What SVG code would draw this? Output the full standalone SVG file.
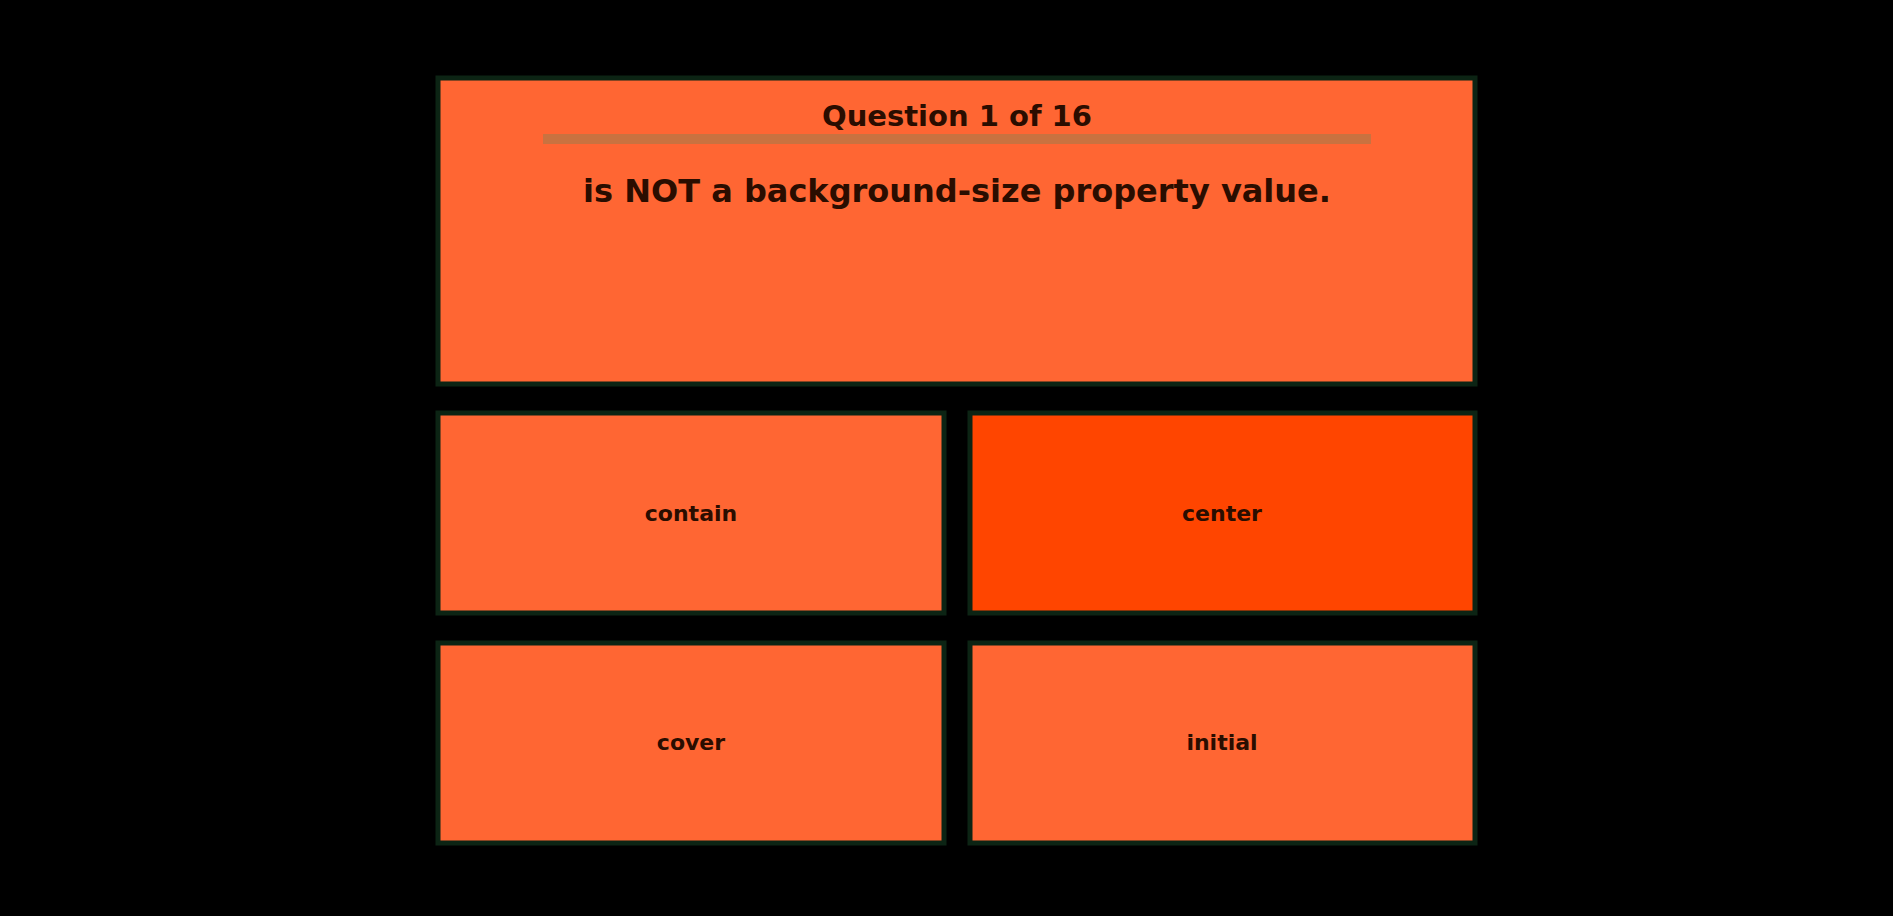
<svg xmlns="http://www.w3.org/2000/svg" width="1893" height="916" viewBox="0 0 1893 916">
<style>
.box{fill:#ff6633;stroke:#0c2414;stroke-width:5}
.sel{fill:#ff4500}
.t{font-family:"DejaVu Sans","Liberation Sans",sans-serif;font-weight:bold;fill:#2a0d00;text-anchor:middle}
.opt{font-size:22px}
</style>
<rect width="1893" height="916" fill="#000"/>
<g id="question">
<rect class="box" x="438" y="78" width="1037" height="306"/>
<text class="t" x="957" y="126" font-size="29">Question 1 of 16</text>
<rect x="543" y="134" width="828" height="10" fill="#c97240"/>
<text class="t" x="957" y="202" font-size="32">is NOT a background-size property value.</text>
</g>
<g id="opt-contain">
<rect class="box" x="438" y="413" width="506" height="200"/>
<text class="t opt" x="691" y="521">contain</text>
</g>
<g id="opt-center">
<rect class="box sel" x="970" y="413" width="505" height="200"/>
<text class="t opt" x="1222" y="521">center</text>
</g>
<g id="opt-cover">
<rect class="box" x="438" y="643" width="506" height="200"/>
<text class="t opt" x="691" y="750">cover</text>
</g>
<g id="opt-initial">
<rect class="box" x="970" y="643" width="505" height="200"/>
<text class="t opt" x="1222" y="750">initial</text>
</g>
<g id="connectors"/>
</svg>
